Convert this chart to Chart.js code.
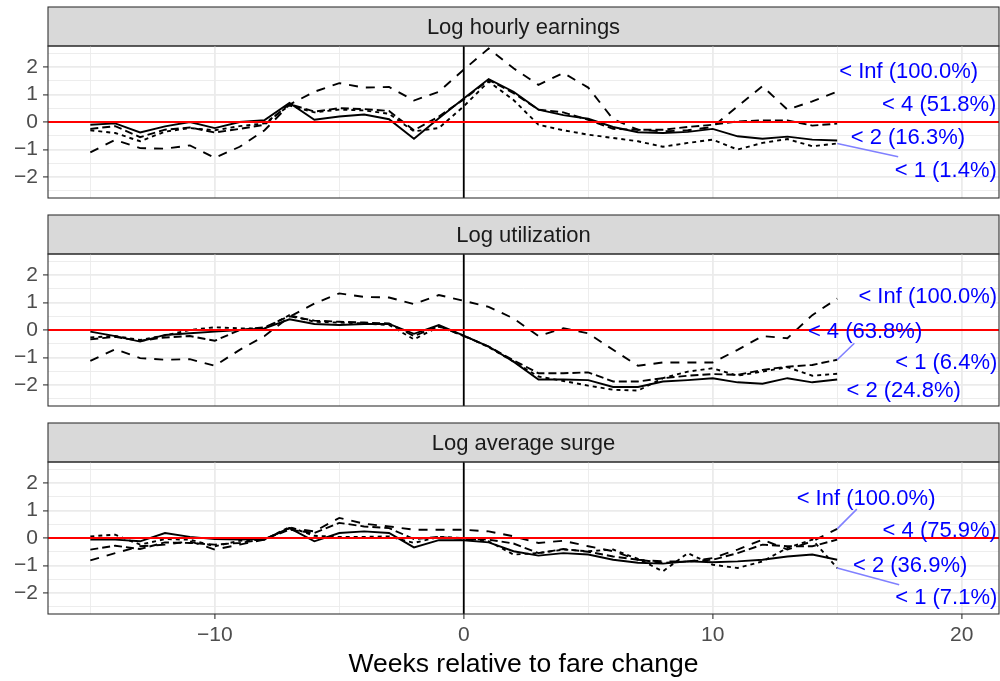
<!DOCTYPE html>
<html>
<head>
<meta charset="utf-8">
<script src="https://cdn.jsdelivr.net/npm/chart.js@4.4.1/dist/chart.umd.min.js"></script>
<style>
  html, body { margin: 0; padding: 0; background: #fff; }
  #wrap { position: relative; width: 1000px; height: 681px; }
  #wrap canvas { position: absolute; left: 0; }
</style>
</head>
<body>
<div id="wrap">
  <canvas id="earnings" width="1000" height="220" style="top:0px"></canvas>
  <canvas id="utilization" width="1000" height="220" style="top:208px"></canvas>
  <canvas id="surge" width="1000" height="265" style="top:416px"></canvas>
</div>
<script>
const weeks = [-15, -14, -13, -12, -11, -10, -9, -8, -7, -6, -5, -4, -3, -2, -1,
  0, 1, 2, 3, 4, 5, 6, 7, 8, 9, 10, 11, 12, 13, 14, 15];

const groups = ['< 1', '< 2', '< 4', '< Inf'];

// Log hourly earnings
const earningsLt1 = [-0.30, -0.40, -0.70, -0.35, -0.22, -0.30, -0.15, -0.05, 0.60, 0.35, 0.45, 0.42, 0.30, -0.34, -0.22,
  0.57, 1.47, 0.80, -0.10, -0.30, -0.46, -0.58, -0.70, -0.90, -0.76, -0.64, -1.00, -0.76, -0.62, -0.88, -0.78];
const earningsLt2 = [-0.10, -0.05, -0.38, -0.16, 0.00, -0.22, 0.00, 0.07, 0.69, 0.08, 0.20, 0.27, 0.10, -0.61, 0.14,
  0.85, 1.56, 1.10, 0.45, 0.25, 0.12, -0.18, -0.37, -0.40, -0.36, -0.25, -0.52, -0.61, -0.53, -0.64, -0.67];
const earningsLt4 = [-0.25, -0.15, -0.55, -0.28, -0.20, -0.38, -0.25, -0.10, 0.65, 0.38, 0.50, 0.47, 0.40, -0.30, 0.20,
  0.82, 1.53, 1.05, 0.45, 0.35, 0.08, -0.25, -0.28, -0.28, -0.18, -0.10, 0.02, 0.06, 0.06, -0.13, -0.06];
const earningsAll = [-1.10, -0.65, -0.95, -0.97, -0.85, -1.30, -0.90, -0.30, 0.63, 1.10, 1.41, 1.25, 1.27, 0.78, 1.10,
  1.90, 2.67, 1.95, 1.35, 1.78, 1.25, 0.10, -0.28, -0.34, -0.30, -0.18, 0.57, 1.30, 0.45, 0.75, 1.10];
const earningsShares = ['1.4%', '16.3%', '51.8%', '100.0%'];

// Log utilization
const utilizationLt1 = [-0.27, -0.22, -0.36, -0.20, 0.00, 0.10, 0.06, 0.06, 0.54, 0.30, 0.27, 0.24, 0.18, -0.34, 0.12,
  -0.20, -0.62, -1.15, -1.69, -1.85, -2.02, -2.17, -2.20, -1.75, -1.51, -1.39, -1.66, -1.51, -1.35, -1.66, -1.59];
const utilizationLt2 = [-0.06, -0.22, -0.42, -0.18, -0.12, -0.06, 0.00, 0.06, 0.39, 0.22, 0.18, 0.22, 0.22, -0.14, 0.18,
  -0.20, -0.60, -1.15, -1.80, -1.80, -1.82, -2.07, -2.07, -1.87, -1.82, -1.75, -1.90, -1.95, -1.75, -1.90, -1.80];
const utilizationLt4 = [-0.34, -0.25, -0.39, -0.27, -0.22, -0.39, 0.00, 0.10, 0.50, 0.34, 0.30, 0.27, 0.24, -0.22, 0.14,
  -0.22, -0.60, -1.10, -1.57, -1.57, -1.54, -1.87, -1.87, -1.75, -1.66, -1.60, -1.63, -1.45, -1.33, -1.27, -1.08];
const utilizationAll = [-1.12, -0.70, -1.02, -1.08, -1.06, -1.30, -0.72, -0.22, 0.48, 0.96, 1.33, 1.20, 1.18, 0.94, 1.27,
  1.06, 0.84, 0.42, -0.22, 0.06, -0.12, -0.72, -1.30, -1.18, -1.18, -1.18, -0.72, -0.22, -0.30, 0.54, 1.14];
const utilizationShares = ['6.4%', '24.8%', '63.8%', '100.0%'];

// Log average surge
const surgeLt1 = [0.06, 0.12, -0.24, -0.04, -0.06, -0.30, -0.10, -0.06, 0.40, 0.08, 0.04, 0.04, 0.06, -0.18, 0.04,
  0.00, -0.12, -0.60, -0.55, -0.42, -0.48, -0.42, -0.76, -1.21, -0.55, -0.97, -1.09, -0.85, -0.36, -0.06, -1.09];
const surgeLt2 = [-0.06, -0.06, -0.12, 0.18, 0.04, -0.04, -0.06, -0.04, 0.36, -0.12, 0.18, 0.24, 0.18, -0.34, -0.08,
  -0.08, -0.16, -0.48, -0.64, -0.55, -0.60, -0.79, -0.90, -0.93, -0.85, -0.88, -0.85, -0.79, -0.67, -0.60, -0.79];
const surgeLt4 = [-0.42, -0.28, -0.40, -0.16, -0.18, -0.24, -0.18, -0.04, 0.30, 0.18, 0.55, 0.42, 0.36, -0.04, 0.04,
  -0.04, -0.06, -0.20, -0.55, -0.40, -0.50, -0.67, -0.79, -0.90, -0.85, -0.79, -0.55, -0.24, -0.30, -0.30, -0.06];
const surgeAll = [-0.81, -0.55, -0.30, -0.24, -0.12, -0.42, -0.24, -0.06, 0.36, 0.24, 0.73, 0.52, 0.42, 0.30, 0.30,
  0.30, 0.24, 0.06, -0.18, -0.10, -0.30, -0.48, -0.79, -0.85, -0.85, -0.73, -0.42, -0.06, -0.42, -0.12, 0.33];
const surgeShares = ['7.1%', '36.9%', '75.9%', '100.0%'];

const FONT = '"Liberation Sans", Arial, Helvetica, sans-serif';
const STRIP_TOP = 7;
const lineDash = { '< 1': [4, 4], '< 2': [], '< 4': [8, 4], '< Inf': [9, 8] };

// where each group's label sits (centre, in data units), with optional leader end
const earningsSpots = {
  '< 1': { x: 19.36, y: -1.78, lx: 17.45, ly: -1.26 },
  '< 2': { x: 17.84, y: -0.58 },
  '< 4': { x: 19.1, y: 0.62 },
  '< Inf': { x: 17.87, y: 1.8 }
};
const utilizationSpots = {
  '< 1': { x: 19.38, y: -1.2 },
  '< 2': { x: 17.67, y: -2.23 },
  '< 4': { x: 16.12, y: -0.06, lx: 15.69, ly: -0.48 },
  '< Inf': { x: 18.64, y: 1.2 }
};
const surgeSpots = {
  '< 1': { x: 19.38, y: -2.18, lx: 17.49, ly: -1.7 },
  '< 2': { x: 17.93, y: -1.01 },
  '< 4': { x: 19.12, y: 0.24 },
  '< Inf': { x: 16.16, y: 1.42, lx: 15.79, ly: 1.05 }
};

const minus = (v) => (v < 0 ? '\u2212' + Math.abs(v) : String(v));
const isMajorX = (v) => Math.abs(v % 10) < 1e-9;
const isMajorY = (v) => Math.abs(v - Math.round(v)) < 1e-9;

// strip, reference lines, group labels and panel border
const panelDecor = {
  id: 'panelDecor',
  beforeDraw(chart, args, opts) {
    const { ctx, chartArea: a } = chart;
    ctx.save();
    ctx.fillStyle = '#d9d9d9';
    ctx.fillRect(a.left, STRIP_TOP, a.right - a.left, a.top - STRIP_TOP);
    ctx.strokeStyle = '#333333';
    ctx.lineWidth = 1.1;
    ctx.strokeRect(a.left, STRIP_TOP, a.right - a.left, a.top - STRIP_TOP);
    ctx.fillStyle = '#1a1a1a';
    ctx.font = '22px ' + FONT;
    ctx.textAlign = 'center';
    ctx.textBaseline = 'middle';
    ctx.fillText(opts.title, (a.left + a.right) / 2, (STRIP_TOP + a.top) / 2 + 1);
    ctx.restore();
  },
  afterDatasetsDraw(chart, args, opts) {
    const { ctx, chartArea: a, scales: { x, y } } = chart;
    ctx.save();
    ctx.beginPath();
    ctx.rect(a.left, a.top, a.right - a.left, a.bottom - a.top);
    ctx.clip();

    const x0 = x.getPixelForValue(0);
    ctx.strokeStyle = '#000000';
    ctx.lineWidth = 1.8;
    ctx.beginPath();
    ctx.moveTo(x0, a.top);
    ctx.lineTo(x0, a.bottom);
    ctx.stroke();

    const y0 = y.getPixelForValue(0);
    ctx.strokeStyle = '#ff0000';
    ctx.lineWidth = 1.8;
    ctx.beginPath();
    ctx.moveTo(a.left, y0);
    ctx.lineTo(a.right, y0);
    ctx.stroke();

    // leader lines from the last week to the label
    const series = opts.series;
    ctx.strokeStyle = '#8080ff';
    ctx.lineWidth = 1.6;
    groups.forEach((g, i) => {
      const s = opts.spots[g];
      if (s.lx === undefined) return;
      const vals = series[i];
      ctx.beginPath();
      ctx.moveTo(x.getPixelForValue(weeks[weeks.length - 1]), y.getPixelForValue(vals[vals.length - 1]));
      ctx.lineTo(x.getPixelForValue(s.lx), y.getPixelForValue(s.ly));
      ctx.stroke();
    });

    ctx.fillStyle = '#0000ff';
    ctx.font = '22px ' + FONT;
    ctx.textAlign = 'center';
    ctx.textBaseline = 'middle';
    groups.forEach((g, i) => {
      const s = opts.spots[g];
      ctx.fillText(g + ' (' + opts.shares[i] + ')', x.getPixelForValue(s.x), y.getPixelForValue(s.y));
    });
    ctx.restore();

    ctx.save();
    ctx.strokeStyle = '#333333';
    ctx.lineWidth = 1.1;
    ctx.strokeRect(a.left, a.top, a.right - a.left, a.bottom - a.top);
    ctx.restore();
  }
};

function makePanel(id, title, series, shares, spots, bottom) {
  const datasets = groups.map((g, i) => ({
    label: g,
    data: weeks.map((w, k) => ({ x: w, y: series[i][k] })),
    borderColor: '#000000',
    borderWidth: 1.9,
    borderDash: lineDash[g],
    pointRadius: 0,
    tension: 0,
    fill: false
  }));

  return new Chart(document.getElementById(id), {
    type: 'line',
    data: { datasets },
    plugins: [panelDecor],
    options: {
      responsive: false,
      animation: false,
      events: [],
      layout: { padding: { top: 46, right: 1, left: 0, bottom: 0 } },
      plugins: {
        legend: { display: false },
        tooltip: { enabled: false },
        panelDecor: { title, series, shares, spots }
      },
      scales: {
        x: {
          type: 'linear',
          min: -16.7,
          max: 21.5,
          border: { display: false },
          grid: {
            color: '#ebebeb',
            lineWidth: (c) => (isMajorX(c.tick.value) ? 1.8 : 0.9),
            drawTicks: bottom,
            tickLength: 5,
            tickColor: (c) => (isMajorX(c.tick.value) ? '#333333' : 'rgba(0,0,0,0)'),
            tickWidth: 1.1
          },
          ticks: {
            display: bottom,
            stepSize: 5,
            includeBounds: false,
            autoSkip: false,
            maxRotation: 0,
            padding: 4,
            color: '#4d4d4d',
            font: { family: FONT, size: 21 },
            callback: (v) => (isMajorX(v) ? minus(v) : '')
          },
          title: {
            display: bottom,
            text: 'Weeks relative to fare change',
            color: '#000000',
            font: { family: FONT, size: 26.5 },
            padding: { top: 0, bottom: 0 }
          },
          afterFit: (scale) => { scale.height = bottom ? 67 : 22; }
        },
        y: {
          min: -2.76,
          max: 2.76,
          border: { display: false },
          grid: {
            color: '#ebebeb',
            lineWidth: (c) => (isMajorY(c.tick.value) ? 1.8 : 0.9),
            tickLength: 5,
            tickColor: (c) => (isMajorY(c.tick.value) ? '#333333' : 'rgba(0,0,0,0)'),
            tickWidth: 1.1
          },
          ticks: {
            stepSize: 0.5,
            includeBounds: false,
            autoSkip: false,
            padding: 5,
            color: '#4d4d4d',
            font: { family: FONT, size: 21 },
            callback: (v) => (isMajorY(v) ? minus(v) : '')
          },
          afterFit: (scale) => { scale.width = 48; }
        }
      }
    }
  });
}

makePanel('earnings', 'Log hourly earnings',
  [earningsLt1, earningsLt2, earningsLt4, earningsAll], earningsShares, earningsSpots, false);
makePanel('utilization', 'Log utilization',
  [utilizationLt1, utilizationLt2, utilizationLt4, utilizationAll], utilizationShares, utilizationSpots, false);
makePanel('surge', 'Log average surge',
  [surgeLt1, surgeLt2, surgeLt4, surgeAll], surgeShares, surgeSpots, true);
</script>
</body>
</html>
